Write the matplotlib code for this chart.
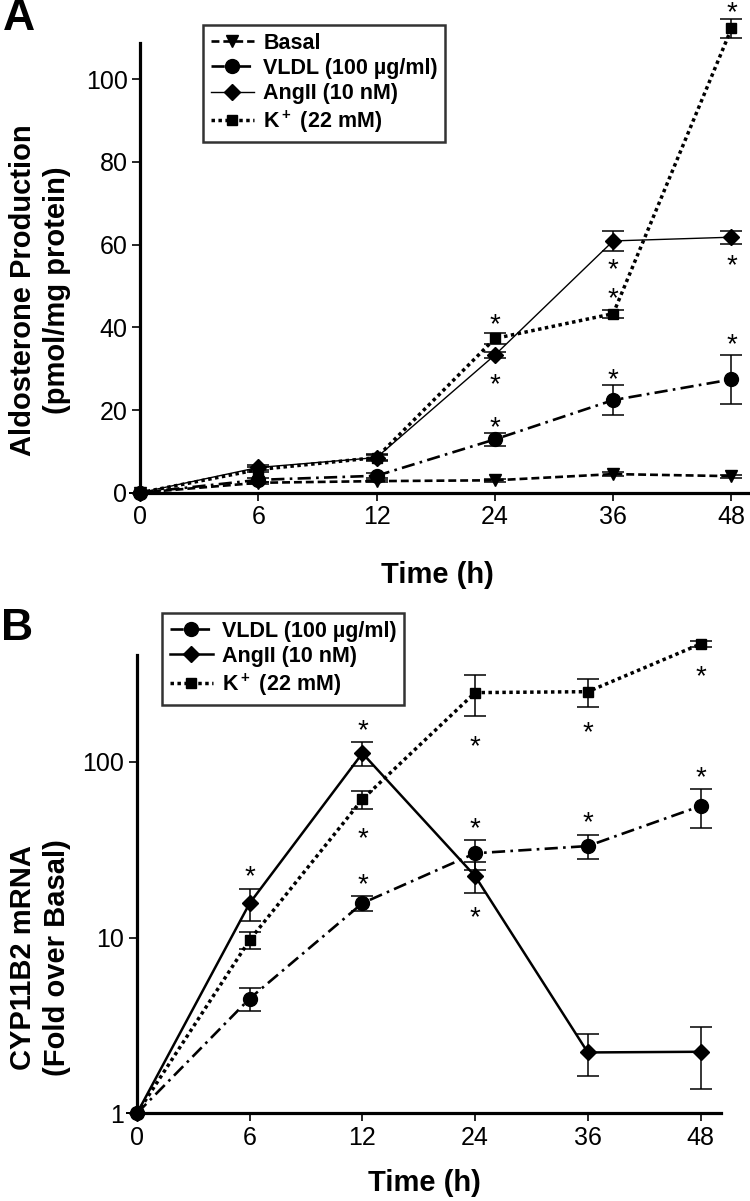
import numpy as np
import matplotlib.pyplot as plt

plt.rcParams['font.family'] = ['Liberation Sans', 'DejaVu Sans']
plt.rcParams['mathtext.fontset'] = 'custom'
plt.rcParams['mathtext.rm'] = 'Liberation Sans'
plt.rcParams['mathtext.bf'] = 'Liberation Sans:bold'
plt.rcParams['mathtext.default'] = 'bf'

times = ["0", "6", "12", "24", "36", "48"]

# panel A - aldosterone production (pmol/mg protein)
basal_a = [0, 2.4, 2.8, 3.0, 4.5, 4.0]
basal_a_err = [0, 0.3, 0.3, 0.3, 0.4, 0.4]
vldl_a = [0, 3.1, 4.1, 12.9, 22.4, 27.4]
vldl_a_err = [0, 0.5, 0.6, 1.6, 3.7, 6.0]
angii_a = [0, 6.1, 8.5, 33.3, 60.9, 61.8]
angii_a_err = [0, 0.6, 0.6, 0.8, 2.4, 1.6]
k_a = [0, 5.6, 8.5, 37.3, 43.3, 112.3]
k_a_err = [0, 0.5, 0.8, 1.4, 1.0, 2.2]

star_a_x = [3, 3, 3, 4, 4, 4, 5, 5, 5]
star_a_y = [42.5, 28.1, 17.7, 55.9, 48.9, 29.1, 117.9, 56.9, 37.7]

# panel B - CYP11B2 mRNA (fold over basal)
vldl_b = [1, 4.5, 15.7, 30.2, 33.2, 56.1]
vldl_b_err = [0, 0.7, 1.6, 5.8, 5.1, 14.0]
angii_b = [1, 15.7, 112, 22.4, 2.22, 2.24]
angii_b_err = [0, 3.2, 17, 4.4, 0.6, 0.86]
k_b = [1, 9.7, 61.3, 248, 251, 469]
k_b_err = [0, 1.1, 7.2, 66, 45, 18]

star_b_x = [1, 2, 2, 2, 3, 3, 3, 4, 4, 5, 5]
star_b_y = [24.5, 167, 40.6, 22.2, 136, 46.1, 14.4, 162, 49.9, 337, 89.9]

STYLES = {
    "Basal": dict(ls=(0, (3, 1.5)), marker="v", ms=9, lw=1.9),
    "VLDL (100 µg/ml)": dict(ls=(0, (5, 2, 1, 2)), marker="o", ms=10, lw=1.9),
    "AngII (10 nM)": dict(ls="-", marker="D", ms=8, lw=1.0),
    "K$^+$ (22 mM)": dict(ls=(0, (1, 1)), marker="s", ms=7.5, lw=2.5),
}


def draw_series(ax, x, y, err, label, lw=None):
    st = dict(STYLES[label])
    if lw is not None:
        st["lw"] = lw
    eb = ax.errorbar(x, y, yerr=err, fmt="none", ecolor="black",
                     elinewidth=1.1, capsize=8, capthick=1.1, zorder=3)
    for art in eb.get_children():
        art.set_clip_on(False)
    ax.plot(x, y, color="black", label=label, clip_on=False, zorder=4,
            linestyle=st["ls"], marker=st["marker"], markersize=st["ms"],
            linewidth=st["lw"])


def style_axes(ax):
    for side in ["top", "right"]:
        ax.spines[side].set_visible(False)
    for side in ["left", "bottom"]:
        ax.spines[side].set_linewidth(2.3)
    ax.tick_params(direction="out", length=6, width=1.2, labelsize=18, pad=3)
    ax.set_xticks(range(len(times)))
    ax.set_xticklabels(times)


def add_legend(ax, left, top):
    leg = ax.legend(loc="upper left", bbox_to_anchor=(left / W, 1 - top / H),
                    bbox_transform=fig.transFigure, frameon=True, fancybox=False,
                    edgecolor="black", prop=dict(weight="bold", size=15.5),
                    handlelength=2.0, handletextpad=0.45, labelspacing=0.2,
                    borderpad=0.35, borderaxespad=0)
    leg.get_frame().set_linewidth(1.8)
    return leg


fig = plt.figure(figsize=(7.5, 12.01), dpi=100)
W, H = 750, 1201

# ---- panel A ----
axA = fig.add_axes([140 / W, 1 - 492.7 / H, 5.16 * 118.3 / W, (492.7 - 43.3) / H])
x = np.arange(len(times))
draw_series(axA, x, basal_a, basal_a_err, "Basal")
draw_series(axA, x, vldl_a, vldl_a_err, "VLDL (100 µg/ml)")
draw_series(axA, x, angii_a, angii_a_err, "AngII (10 nM)")
draw_series(axA, x, k_a, k_a_err, "K$^+$ (22 mM)")
for sx, sy in zip(star_a_x, star_a_y):
    axA.annotate("*", (sx, sy), xytext=(0, -11), textcoords="offset points",
                 ha="center", va="baseline", fontsize=20, annotation_clip=False)
axA.set_xlim(0, 5.16)
axA.set_ylim(0, 108.7)
axA.set_yticks([0, 20, 40, 60, 80, 100])
style_axes(axA)
add_legend(axA, 203, 25)

fig.text(40 / W, 1 - 290 / H, "Aldosterone Production\n(pmol/mg protein)",
         rotation=90, ha="center", va="center", fontsize=21, fontweight="bold",
         multialignment="center", linespacing=1.3)
fig.text(437 / W, 1 - 575 / H, "Time (h)", ha="center", va="center",
         fontsize=21, fontweight="bold")
fig.text(19 / W, 1 - 19 / H, "A", ha="center", va="center", fontsize=32,
         fontweight="bold")

# ---- panel B ----
axB = fig.add_axes([137 / W, 1 - 1113.3 / H, 5.18 * 112.7 / W, (1113.3 - 655) / H])
draw_series(axB, x, vldl_b, vldl_b_err, "VLDL (100 µg/ml)")
draw_series(axB, x, angii_b, angii_b_err, "AngII (10 nM)", lw=1.8)
draw_series(axB, x, k_b, k_b_err, "K$^+$ (22 mM)")
for sx, sy in zip(star_b_x, star_b_y):
    axB.annotate("*", (sx, sy), xytext=(0, -11), textcoords="offset points",
                 ha="center", va="baseline", fontsize=20, annotation_clip=False)
axB.set_yscale("log")
axB.set_xlim(0, 5.18)
axB.set_ylim(1, 406)
axB.set_yticks([1, 10, 100])
axB.set_yticklabels(["1", "10", "100"])
axB.yaxis.set_minor_locator(plt.NullLocator())
style_axes(axB)
add_legend(axB, 162, 613)

fig.text(40 / W, 1 - 958 / H, "CYP11B2 mRNA\n(Fold over Basal)",
         rotation=90, ha="center", va="center", fontsize=21, fontweight="bold",
         multialignment="center", linespacing=1.3)
fig.text(424 / W, 1 - 1183 / H, "Time (h)", ha="center", va="center",
         fontsize=21, fontweight="bold")
fig.text(17 / W, 1 - 628 / H, "B", ha="center", va="center", fontsize=32,
         fontweight="bold")

fig.savefig("out.png", dpi=100)
